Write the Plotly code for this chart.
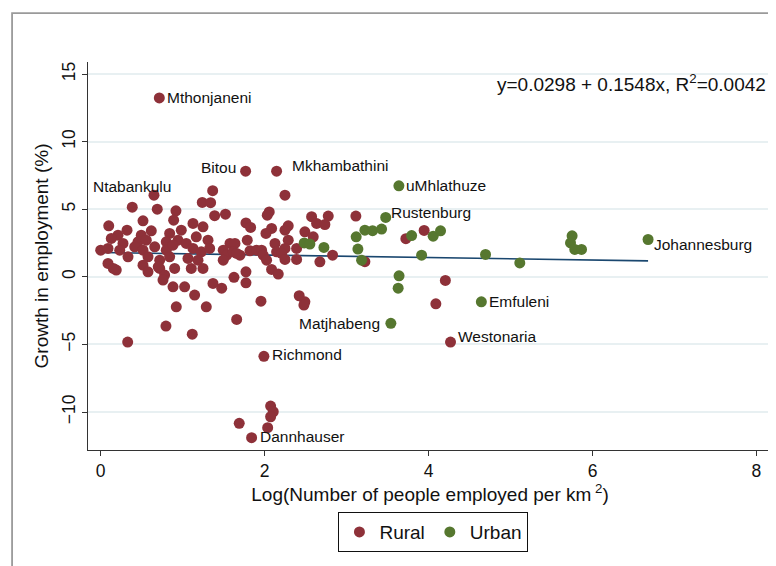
import plotly.graph_objects as go

# ---------------- data ----------------
# Rural municipalities (first 7 are labelled)
rural_x = [0.715, 1.768, 2.146, 0.385, 1.991, 1.841, 4.268,
           0.65, 0.69, 0.918, 1.239, 1.366, 1.341, 1.39, 1.522, 0.098, 0.516,
           0.89, 0.321, 0.211, 0.617, 0.841, 1.126, 1.248, 0.983, 0.495, 0.129,
           0.272, 0.455, 0.556, 0.80, 0.943, 1.166, 1.309, 0.0, 0.089, 0.232,
           0.415, 0.516, 0.659, 0.80, 0.882, 1.044, 1.126, 1.227, 1.329, 0.333,
           0.577, 0.72, 0.841, 1.065, 1.187, 0.089, 0.19, 0.516, 0.72, 0.902,
           1.105, 1.248, 0.577, 0.78, 0.76, 0.882, 1.024, 1.146, 1.37, 0.922,
           1.288, 0.154, 0.702, 1.476, 1.626, 1.772, 1.772, 1.955, 1.659, 0.796,
           1.117, 0.329, 2.073, 2.105, 2.073, 1.69, 2.037,
           2.248, 2.056, 2.032, 2.573, 2.776, 2.634, 2.735, 1.772, 1.829, 2.288,
           2.248, 2.085, 2.016, 2.491, 2.593, 1.788, 2.126, 2.288, 2.248, 2.39,
           1.577, 1.638, 1.495, 1.537, 1.617, 1.699, 1.821, 1.902, 1.963, 1.983,
           2.024, 2.146, 2.207, 1.495, 2.248, 2.39, 2.674, 2.829, 2.085, 2.166,
           2.422, 2.491, 2.479, 1.659, 3.113, 3.223, 3.723, 3.946, 4.205, 4.089]
rural_y = [13.23, 7.81, 7.81, 5.15, -5.88, -11.90, -4.83,
           6.04, 5.0, 4.88, 5.50, 6.37, 5.48, 4.52, 4.63, 3.77, 4.14,
           4.19, 3.45, 3.08, 3.40, 3.21, 3.95, 3.70, 3.45, 3.08, 2.84,
           2.47, 2.59, 2.71, 2.59, 2.71, 2.96, 2.71, 1.97, 2.10, 1.97,
           2.22, 1.97, 2.22, 1.97, 2.34, 2.47, 2.10, 1.85, 2.10, 1.48,
           1.48, 1.23, 1.48, 1.36, 1.23, 0.99, 0.50, 0.86, 0.62, 0.62,
           0.62, 0.62, 0.37, 0.13, -0.24, -0.74, -0.74, -1.35, -0.49, -2.22,
           -2.22, 0.62, 0.74, -0.84, -0.04, 0.37, -0.44, -1.80, -3.15, -3.64,
           -4.24, -4.83, -9.56, -9.98, -10.35, -10.84, -11.16,
           6.04, 4.80, 4.56, 4.45, 4.49, 3.95, 3.87, 3.99, 3.65, 3.77,
           3.45, 3.58, 3.21, 3.33, 2.96, 2.71, 2.47, 2.71, 2.10, 2.10,
           2.47, 2.47, 1.97, 1.60, 1.85, 1.60, 1.92, 1.97, 1.97, 1.60,
           1.23, 1.85, 1.73, 1.23, 1.29, 1.29, 1.11, 1.60, 0.55, 0.20,
           -1.40, -1.85, -2.09, 1.73, 4.49, 1.12, 2.82, 3.43, -0.27, -2.00]

# Urban municipalities (first 5 are labelled)
urban_x = [3.638, 3.477, 6.678, 4.644, 3.54,
           2.483, 2.552, 2.723, 3.223, 3.317, 3.427, 3.117, 3.138, 3.183, 3.793,
           4.056, 4.146, 3.915, 4.695, 5.113, 5.751, 5.732, 5.784, 5.866, 3.64,
           3.629]
urban_y = [6.73, 4.39, 2.76, -1.85, -3.44,
           2.51, 2.42, 2.17, 3.45, 3.41, 3.53, 2.96, 2.05, 1.23, 3.05,
           3.01, 3.40, 1.60, 1.66, 1.03, 3.03, 2.51, 2.03, 2.03, 0.07,
           -0.84]

rural_labels = ["Mthonjaneni", "Bitou", "Mkhambathini", "Ntabankulu",
                "Richmond", "Dannhauser", "Westonaria"]
urban_labels = ["uMhlathuze", "Rustenburg", "Johannesburg", "Emfuleni", "Matjhabeng"]

# fitted line
fit_intercept = 1.80
fit_slope = -0.093
equation_text = "y=0.0298 + 0.1548x, R<sup>2</sup>=0.0042"

x_ticks = [0, 2, 4, 6, 8]
y_ticks = [-10, -5, 0, 5, 10, 15]

# ---------------- styling ----------------
RURAL_C = "#8e3139"
URBAN_C = "#56772f"
LINE_C = "#1a476f"
FONT = "Liberation Sans, Arial, Helvetica, sans-serif"

# label placement: (anchor, xshift, yshift)
rural_pos = {"Mthonjaneni": ("left", 6, 0), "Bitou": ("right", -8, 4),
             "Mkhambathini": ("left", 13, 6), "Ntabankulu": ("center", 0, 21),
             "Richmond": ("left", 6, 2), "Dannhauser": ("left", 6, 1),
             "Westonaria": ("left", 5, 6)}
urban_pos = {"uMhlathuze": ("left", 5, 0), "Rustenburg": ("left", 3, 5),
             "Johannesburg": ("left", 4, -5), "Emfuleni": ("left", 6, 0),
             "Matjhabeng": ("right", -9, 0)}

fig = go.Figure()

xmin = min(rural_x + urban_x)
xmax = max(rural_x + urban_x)
fig.add_trace(go.Scatter(
    x=[xmin, xmax], y=[fit_intercept + fit_slope * xmin, fit_intercept + fit_slope * xmax],
    mode="lines", line=dict(color=LINE_C, width=1.6), showlegend=False, hoverinfo="skip"))

fig.add_trace(go.Scatter(x=rural_x, y=rural_y, mode="markers", name="Rural",
                         marker=dict(color=RURAL_C, size=11, line=dict(width=0))))
fig.add_trace(go.Scatter(x=urban_x, y=urban_y, mode="markers", name="Urban",
                         marker=dict(color=URBAN_C, size=11, line=dict(width=0))))

annotations = []
for i, name in enumerate(rural_labels):
    anc, xs, ys = rural_pos[name]
    annotations.append(dict(x=rural_x[i], y=rural_y[i], text=name, showarrow=False,
                            xanchor=anc, yanchor="middle", xshift=xs, yshift=ys,
                            font=dict(family=FONT, size=15.5, color="#111")))
for i, name in enumerate(urban_labels):
    anc, xs, ys = urban_pos[name]
    annotations.append(dict(x=urban_x[i], y=urban_y[i], text=name, showarrow=False,
                            xanchor=anc, yanchor="middle", xshift=xs, yshift=ys,
                            font=dict(family=FONT, size=15.5, color="#111")))
annotations.append(dict(xref="paper", yref="paper", x=0.9935, y=0.945, text=equation_text,
                        showarrow=False, xanchor="right", yanchor="middle",
                        font=dict(family=FONT, size=19, color="#111")))

fig.update_layout(
    width=768, height=558,
    margin=dict(l=80, r=4, t=54, b=116),
    paper_bgcolor="white", plot_bgcolor="white",
    font=dict(family=FONT, size=17.5, color="#111"),
    showlegend=True,
    legend=dict(orientation="h", x=0.505, xanchor="center", y=-0.16, yanchor="top",
                bordercolor="#111", borderwidth=1, font=dict(family=FONT, size=19),
                bgcolor="white"),
    annotations=annotations,
    shapes=[dict(type="rect", xref="paper", yref="paper",
                 x0=-0.111, x1=1.2, y0=-0.6, y1=1.126,
                 line=dict(color="#9a9a9a", width=1.8), layer="below")],
)

fig.update_xaxes(range=[-0.155, 8.19], tickvals=x_ticks, ticks="outside", ticklen=5,
                 tickcolor="#333", showline=True, linecolor="#333", linewidth=1.2,
                 showgrid=False, zeroline=False,
                 tickfont=dict(size=17.5),
                 title=dict(text="Log(Number of people employed per km<sup> 2</sup>)",
                            font=dict(size=19), standoff=1))
fig.update_yaxes(range=[-12.81, 15.89], tickvals=y_ticks,
                 ticktext=[str(v).replace("-", "\u2212") for v in y_ticks],
                 ticks="outside", ticklen=5, tickangle=-90,
                 tickcolor="#333", showline=True, linecolor="#333", linewidth=1.2,
                 showgrid=True, gridcolor="#e8f0f2", gridwidth=1.5, zeroline=False,
                 tickfont=dict(size=17.5),
                 title=dict(text="Growth in employment (%)", font=dict(size=19), standoff=5))

fig.write_html("out.html")
